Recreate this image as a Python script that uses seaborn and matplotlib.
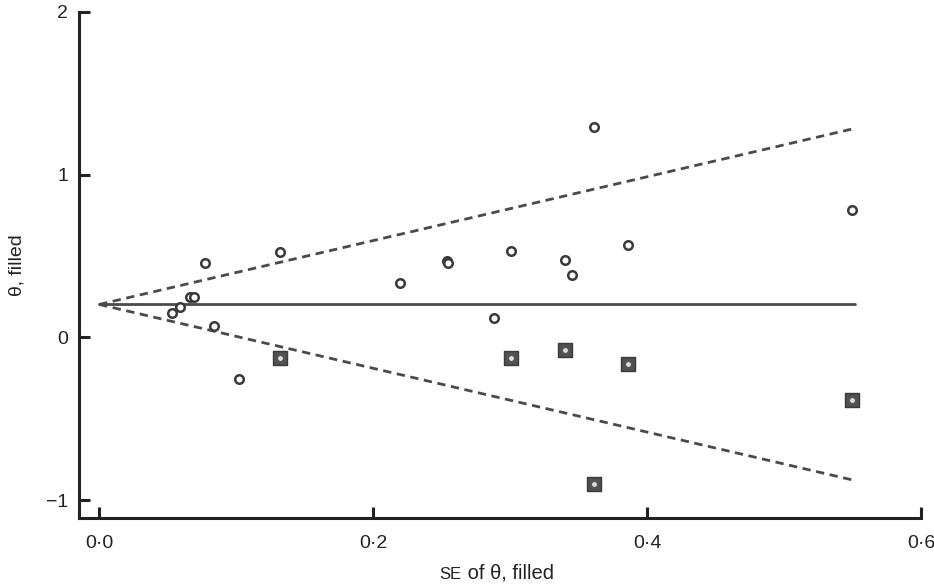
import numpy as np
import pandas as pd
import matplotlib
matplotlib.use("Agg")
import matplotlib.pyplot as plt
import seaborn as sns

# observed studies
se_obs = [0.053, 0.059, 0.066, 0.069, 0.077, 0.084, 0.102, 0.132, 0.220,
          0.254, 0.255, 0.288, 0.301, 0.340, 0.345, 0.361, 0.386, 0.550]
theta_obs = [0.147, 0.184, 0.250, 0.250, 0.454, 0.067, -0.258, 0.521, 0.331,
             0.470, 0.455, 0.117, 0.528, 0.472, 0.380, 1.294, 0.564, 0.785]

# filled (imputed) studies
se_fill = [0.132, 0.301, 0.340, 0.361, 0.386, 0.550]
theta_fill = [-0.129, -0.129, -0.080, -0.902, -0.166, -0.387]

pooled = 0.202
se_max = 0.552

x_ticks = [0.0, 0.2, 0.4, 0.6]
y_ticks = [-1, 0, 1, 2]

sns.set_style("ticks")
plt.rcParams['font.family'] = ['Liberation Sans', 'DejaVu Sans']

fig = plt.figure(figsize=(9.34, 5.86), dpi=100)
ax = fig.add_axes([0.0846, 0.116, 0.9014, 0.864])

obs = pd.DataFrame({"se": se_obs, "theta": theta_obs})
fill = pd.DataFrame({"se": se_fill, "theta": theta_fill})

# funnel lines
se_line = np.array([0.0, se_max])
lines = pd.DataFrame({"se": np.concatenate([se_line, se_line, se_line]),
                      "theta": np.concatenate([np.full(2, pooled),
                                               pooled + 1.96 * se_line,
                                               pooled - 1.96 * se_line]),
                      "kind": ["mid"] * 2 + ["up"] * 2 + ["low"] * 2})
sns.lineplot(data=lines[lines.kind == "mid"], x="se", y="theta", ax=ax,
             color="#4a4a4a", lw=2, zorder=1)
for k in ["up", "low"]:
    sns.lineplot(data=lines[lines.kind == k], x="se", y="theta", ax=ax,
                 color="#4a4a4a", lw=2, linestyle=(0, (3, 2)), zorder=1)

sns.scatterplot(data=fill, x="se", y="theta", ax=ax, marker="s", s=100,
                color="#505050", edgecolor="#3a3a3a", linewidth=1, zorder=3)
sns.scatterplot(data=fill, x="se", y="theta", ax=ax, marker="o", s=22,
                facecolor="#dddddd", edgecolor="#555555", linewidth=1.2, zorder=4)
sns.scatterplot(data=obs, x="se", y="theta", ax=ax, marker="o", s=38,
                facecolor="white", edgecolor="#3a3a3a", linewidth=1.8, zorder=4)

ax.set_xlim(-0.0147, 0.6)
ax.set_ylim(-1.11, 2.0)
ax.set_xticks(x_ticks)
ax.set_xticklabels([f"{t:.1f}".replace(".", "\u00b7") for t in x_ticks])
ax.set_yticks(y_ticks)
ax.set_yticklabels([str(t).replace("-", "\u2212") for t in y_ticks])
ax.tick_params(direction="in", length=8, width=2.2, labelsize=14,
               colors="#222222", pad=8)
ax.tick_params(axis="x", pad=12)
for s in ["left", "bottom"]:
    ax.spines[s].set_linewidth(2.2)
    ax.spines[s].set_color("#222222")
sns.despine(ax=ax)

# x label with small-caps "SE"
ax.set_xlabel("")
ax.text(0.4545, -0.12, "SE", transform=ax.transAxes, ha="right",
        va="baseline", fontsize=12, color="#222222")
ax.text(0.4545, -0.12, " of \u03b8, filled", transform=ax.transAxes,
        ha="left", va="baseline", fontsize=14.5, color="#222222")
ax.set_ylabel("\u03b8, filled", fontsize=14, color="#222222")
ax.yaxis.set_label_coords(-0.064, 0.5)

fig.savefig("out.png", dpi=100)
